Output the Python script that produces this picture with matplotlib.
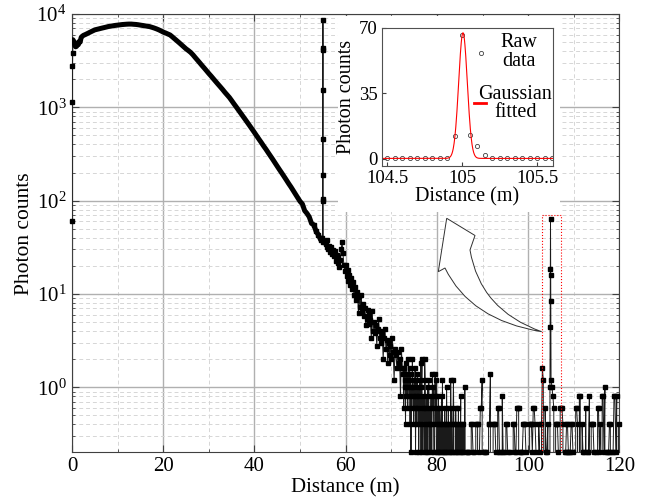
#!/usr/bin/env python3
"""
Photon counting lidar return - distance histogram with zoomed inset
"""

import numpy as np
import matplotlib
matplotlib.use('Agg')
import matplotlib.pyplot as plt
from matplotlib.patches import Rectangle, PathPatch
from matplotlib.path import Path
from matplotlib.ticker import MultipleLocator, LogLocator, FuncFormatter, NullFormatter

plt.rcParams['font.family'] = ['Liberation Serif', 'DejaVu Serif']
plt.rcParams['mathtext.fontset'] = 'custom'
plt.rcParams['mathtext.rm'] = 'Liberation Serif'
plt.rcParams['mathtext.it'] = 'Liberation Serif:italic'

# ---- main histogram ----
start_dist = [0.0, 0.05, 0.1, 0.15, 0.2, 0.4, 0.6, 0.8, 1.0, 1.2, 1.4, 1.6, 1.8, 2.0, 2.2]
start_counts = [60, 1130, 2740, 3860, 5300, 5100, 4600, 4450, 4500, 4900, 4700, 5100, 5000, 5600, 5750]

# 2.5 m .. 54.5 m, every 0.5 m
smooth_counts = [
    5900, 6050, 6220, 6400, 6580, 6760, 6855, 6950, 7050, 7145,
    7245, 7345, 7410, 7480, 7550, 7600, 7655, 7710, 7745, 7780,
    7800, 7800, 7760, 7730, 7675, 7600, 7535, 7465, 7395, 7330,
    7210, 7080, 6935, 6775, 6590, 6400, 6265, 6110, 5960, 5690,
    5420, 5165, 4920, 4680, 4450, 4230, 4060, 3880, 3660, 3420,
    3205, 3000, 2805, 2630, 2460, 2300, 2160, 2020, 1890, 1770,
    1660, 1555, 1450, 1360, 1275, 1180, 1090, 1010, 933, 863,
    798, 738, 682, 630, 581, 536, 493, 454, 419, 385,
    356, 327, 301, 277, 254, 233, 214, 197, 181, 166,
    152, 140, 128, 117, 107, 98, 92, 78, 73, 67,
    57, 55, 47, 43, 38,
]

# first target return near 55 m
spike1_counts = [40, 98, 456, 1540, 4100, 8700, 4360, 188, 105, 36]

# noisy decay, 55.4 m .. 72.4 m every 0.2 m
noisy_counts = [
    36, 34.2, 31.6, 37.4, 30.2, 33.0, 28.4, 31.8, 26.6, 29.4,
    25.2, 28.8, 22.6, 26.0, 21.4, 24.8, 19.6, 23.2, 30.4, 35.8,
    27.2, 20.2, 17.8, 20.6, 15.4, 18.2, 13.6, 16.0, 12.4, 14.8,
    11.2, 13.4, 9.8, 12.0, 8.6, 10.6, 9.2, 6.2, 9.6, 7.2,
    9.8, 6.4, 7.8, 5.8, 7.0, 4.6, 5.4, 6.8, 4.8, 6.0,
    5.2, 3.4, 6.6, 4.0, 5.0, 3.8, 4.6, 2.8, 4.2, 5.4,
    3.4, 4.0, 3.0, 3.8, 2.0, 3.4, 4.2, 2.6, 3.2, 1.8,
    3.0, 2.2, 2.8, 2.0, 3.4, 2.4, 1.2, 2.6, 2.2, 1.6,
    2.4, 1.8, 2.0, 0.8, 2.6, 1.6,
]

# sparse tail, one char per bin, level = int(char, 36) * 0.2 counts
# 72.6 m .. 85.9 m, 0.1 m bins
tail_dense = ("7385629475" "3a64827153" "a452638164" "2735146290" "5a13420a61"
              "3041526032" "1402735104" "7261031420" "3102416021" "0312051203"
              "1020613102" "6201031020" "1302014021" "0210")
# 86.1 m .. 104.5 m, 0.2 m bins
tail_a = ("5011100221" "1022201336" "0111002270" "0222103311" "0411022100"
          "1002211333" "0111222100" "0222133210" "0210286031120")
# second target return near 105 m
spike2_counts = [1.0, 4.4, 18.5, 63, 16, 8.4, 1.2]
# 105.2 m .. 119.8 m, 0.2 m bins
tail_b = ("54302221" "0333201122" "1112210033" "2044021103" "0114022210"
          "1033120441" "5011122011" "441402")

# ---- inset: raw data around the 105 m peak and its Gaussian fit ----
inset_dist = [104.5, 104.55, 104.6, 104.65, 104.7, 104.75, 104.8, 104.85, 104.9,
              104.95, 105.0, 105.05, 105.1, 105.15, 105.2, 105.25, 105.3, 105.35,
              105.4, 105.45, 105.5, 105.55, 105.6]
inset_counts = [0.3, 0.3, 0.3, 0.3, 0.3, 0.3, 0.3, 0.3, 0.4,
                12.3, 66.3, 12.8, 6.9, 2.0, 0.5, 0.3, 0.3, 0.3,
                0.3, 0.3, 0.3, 0.3, 0.3]
fit_amp, fit_center, fit_sigma, fit_offset = 67.0, 105.005, 0.0288, 0.3


def levels(s):
    return [int(ch, 36) * 0.2 for ch in s]


def build_series():
    d = list(start_dist)
    c = list(start_counts)
    d += list(2.5 + 0.5 * np.arange(len(smooth_counts)))
    c += smooth_counts
    d += list(54.9 + 0.02 * np.arange(len(spike1_counts)))
    c += spike1_counts
    d += list(55.4 + 0.2 * np.arange(len(noisy_counts)))
    c += noisy_counts
    d += list(72.6 + 0.1 * np.arange(len(tail_dense)))
    c += levels(tail_dense)
    d += list(86.1 + 0.2 * np.arange(len(tail_a)))
    c += levels(tail_a)
    d += list(104.76 + 0.04 * np.arange(len(spike2_counts)))
    c += spike2_counts
    d += list(105.2 + 0.2 * np.arange(len(tail_b)))
    c += levels(tail_b)
    return np.array(d), np.array(c, dtype=float)


dist, counts = build_series()
n_smooth = len(start_counts) + len(smooth_counts)

fig = plt.figure(figsize=(6.48, 5.04), dpi=100)
ax = fig.add_axes([0.1111, 0.1022, 0.8449, 0.870])
ax.set_yscale('log', nonpositive='clip')

# connecting line (zeros drop below the axis), then the square markers
ax.plot(dist, counts, color='#1a1a1a', lw=0.7, zorder=3)
ax.plot(dist[4:n_smooth], counts[4:n_smooth], color='black', lw=3.6,
        solid_capstyle='round', zorder=4)
mk = counts > 0
mk[4:n_smooth - 4] = False  # dense part is drawn as the thick band
ax.plot(dist[mk], counts[mk], ls='none', marker='s', ms=2.2, color='black',
        clip_on=False, zorder=4)

ax.add_patch(Rectangle((103.0, 0.2), 4.1, 70 - 0.2, fill=False, edgecolor='red',
                       lw=0.8, ls=':', zorder=5))

ax.set_xlim(0, 120)
ax.set_ylim(0.2, 1e4)
ax.xaxis.set_major_locator(MultipleLocator(20))
ax.xaxis.set_minor_locator(MultipleLocator(10))
ax.yaxis.set_major_locator(LogLocator(base=10, numticks=10))
ax.yaxis.set_minor_locator(LogLocator(base=10, subs=np.arange(2, 10), numticks=20))
ax.yaxis.set_minor_formatter(NullFormatter())
ax.grid(True, which='major', color='#b0b0b0', lw=1.0, ls='-')
ax.grid(True, which='minor', color='#d6d6d6', lw=0.7, ls=(0, (4, 3)))
ax.set_axisbelow(True)
ax.tick_params(which='both', direction='in', top=True, right=True, color='#404040')
ax.tick_params(which='major', length=5, labelsize=15)
ax.tick_params(which='minor', length=2.5)
ax.tick_params(axis='y', labelsize=15, pad=4)
for s in ax.spines.values():
    s.set_color('#404040')
ax.set_xlabel('Distance (m)', fontsize=15, labelpad=1)
ax.set_ylabel('Photon counts', fontsize=15.5, labelpad=2)

# white panel under the inset
fig.add_artist(Rectangle((338 / 648, 1 - 212 / 504), 222 / 648, 196 / 504,
                         transform=fig.transFigure, facecolor='white',
                         edgecolor='none', zorder=1))

# curved arrow pointing from the second peak to the inset (pixel coords)
arrow_px = [(541.7, 331.7), (470, 320), (445, 268), (438.3, 271.7), (446.7, 218.3),
            (475, 235.5), (470, 250), (480, 310), (541.7, 331.7), (541.7, 331.7)]
arrow_codes = [Path.MOVETO, Path.CURVE3, Path.CURVE3, Path.LINETO, Path.LINETO,
               Path.LINETO, Path.LINETO, Path.CURVE3, Path.CURVE3, Path.CLOSEPOLY]
arrow_verts = [(x / 648, 1 - y / 504) for x, y in arrow_px]
fig.add_artist(PathPatch(Path(arrow_verts, arrow_codes), transform=fig.transFigure,
                         facecolor='white', edgecolor='#303030', lw=0.7, zorder=1))

# inset
axi = fig.add_axes([0.5895, 0.6712, 0.2634, 0.2738], zorder=2)
xf = np.linspace(104.465, 105.603, 600)
fit_curve = fit_offset + fit_amp * np.exp(-(xf - fit_center) ** 2 / (2 * fit_sigma ** 2))
axi.plot(inset_dist, inset_counts, ls='none', marker='o', ms=3, mfc='none',
         mec='#404040', mew=0.6)
axi.plot(xf, fit_curve, color='red', lw=0.8)
axi.set_xlim(104.465, 105.603)
axi.set_ylim(-3.6, 70)
axi.set_xticks([104.5, 105, 105.5])
axi.set_yticks([0, 35, 70])
axi.xaxis.set_major_formatter(FuncFormatter(lambda v, p: '%g' % v))
axi.tick_params(direction='in', length=3, labelsize=13.5, color='#404040', pad=3)
for s in axi.spines.values():
    s.set_color('#505050')
axi.set_xlabel('Distance (m)', fontsize=14.5, labelpad=0)
axi.set_ylabel('Photon counts', fontsize=14.5, labelpad=2)

# legend entries (centred text, handles to the left)
axi.plot([0.578], [0.819], transform=axi.transAxes, marker='o', ms=3, mfc='none',
         mec='#404040', mew=0.6, clip_on=False)
axi.plot([0.541, 0.609], [0.452, 0.452], transform=axi.transAxes, color='red',
         lw=2.0, clip_on=False)
axi.text(0.80, 0.825, 'Raw\ndata', transform=axi.transAxes, ha='center', va='center',
         multialignment='center', fontsize=14.5, linespacing=0.95)
axi.text(0.782, 0.45, 'Gaussian\nfitted', transform=axi.transAxes, ha='center',
         va='center', multialignment='center', fontsize=14.5, linespacing=0.95)

fig.savefig('out.png', dpi=100)
